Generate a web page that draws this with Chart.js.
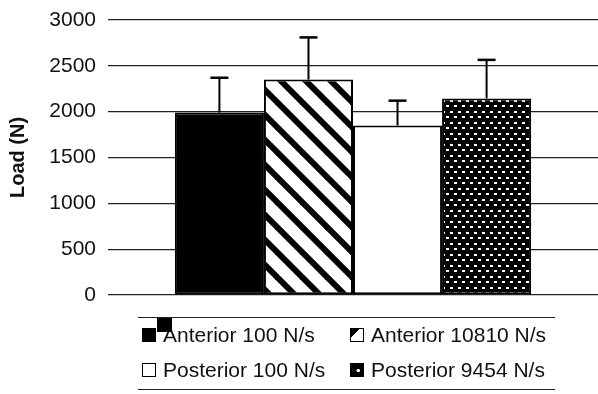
<!DOCTYPE html>
<html>
<head>
<meta charset="utf-8">
<script src="https://cdn.jsdelivr.net/npm/chart.js@4.4.1/dist/chart.umd.min.js"></script>
<style>
  html, body { margin: 0; padding: 0; background: #fff; }
  #wrap { position: relative; width: 598px; height: 394px; overflow: hidden; }
  #c { position: absolute; left: 0; top: 0; }
  #legend { position: absolute; left: 138px; top: 317px; width: 417px; height: 71px;
            border-top: 1.5px solid #222; border-bottom: 1.5px solid #222; }
  .item { position: absolute; font-family: "Liberation Sans", Arial, sans-serif; font-size: 21px;
          color: #111; white-space: nowrap; line-height: 22px; }
  .mk { position: absolute; width: 12px; height: 12px; border: 1.5px solid #000; box-sizing: content-box; }
  .glitch { position: absolute; left: 19px; top: 0px; width: 15px; height: 14px; background: #000; }
</style>
</head>
<body>
<div id="wrap">
  <canvas id="c" width="598" height="394"></canvas>
  <div id="legend"></div>
</div>
<script>
const categories = ['Load'];
const seriesLabels = ['Anterior 100 N/s', 'Anterior 10810 N/s', 'Posterior 100 N/s', 'Posterior 9454 N/s'];
const meanLoad = [1990, 2350, 1850, 2145];
const sdLoad = [380, 460, 270, 420];
const yTicks = [0, 500, 1000, 1500, 2000, 2500, 3000];

function hatchPattern() {
  const s = 25, c = document.createElement('canvas');
  c.width = s; c.height = s;
  const g = c.getContext('2d');
  g.fillStyle = '#fff'; g.fillRect(0, 0, s, s);
  g.strokeStyle = '#000'; g.lineWidth = 6;
  [-s, 0, s].forEach(dx => {
    g.beginPath(); g.moveTo(dx - s, -s); g.lineTo(dx + 2 * s, 2 * s); g.stroke();
  });
  return g.createPattern(c, 'repeat');
}
function dotPattern() {
  const w = 8, h = 11, c = document.createElement('canvas');
  c.width = w; c.height = h;
  const g = c.getContext('2d');
  g.fillStyle = '#000'; g.fillRect(0, 0, w, h);
  g.fillStyle = '#fff';
  g.fillRect(2, 1, 3, 2);
  g.fillRect(6, 6, 3, 2); g.fillRect(-2, 6, 3, 2);
  return g.createPattern(c, 'repeat');
}
const ctx0 = document.getElementById('c').getContext('2d');
const fills = ['#000', hatchPattern(), '#fff', dotPattern()];

const errorBars = {
  id: 'errorBars',
  afterDatasetsDraw(chart) {
    const g = chart.ctx, ys = chart.scales.y;
    g.save();
    g.strokeStyle = '#000';
    chart.data.datasets.forEach((ds, i) => {
      const el = chart.getDatasetMeta(i).data[0];
      const top = ys.getPixelForValue(meanLoad[i] + sdLoad[i]);
      g.lineWidth = 2;
      g.beginPath(); g.moveTo(el.x, el.y); g.lineTo(el.x, top); g.stroke();
      g.lineWidth = 2.5;
      g.beginPath(); g.moveTo(el.x - 9, top); g.lineTo(el.x + 9, top); g.stroke();
    });
    g.restore();
  }
};

new Chart(ctx0, {
  type: 'bar',
  data: {
    labels: categories,
    datasets: seriesLabels.map((lab, i) => ({
      label: lab,
      data: [meanLoad[i]],
      backgroundColor: fills[i],
      borderColor: '#000',
      borderWidth: 2,
      borderSkipped: false,
      categoryPercentage: 0.727,
      barPercentage: 1.0
    }))
  },
  options: {
    responsive: false,
    animation: false,
    layout: { padding: { top: 20, bottom: 99, right: 0, left: 0 } },
    plugins: { legend: { display: false }, tooltip: { enabled: false } },
    scales: {
      x: { display: false },
      y: {
        min: 0, max: 3000,
        afterFit(s) { s.width = 108; s.paddingTop = 0; s.paddingBottom = 0; },
        afterBuildTicks(s) { s.ticks = yTicks.map(v => ({ value: v })); },
        grid: { color: '#222', lineWidth: 1.3, drawTicks: false },
        border: { display: false },
        ticks: { padding: 12, color: '#111', callback: v => String(v),
                 font: { family: '"Liberation Sans", Arial, sans-serif', size: 21 } },
        title: { display: true, text: 'Load (N)', color: '#111', padding: { top: 6, bottom: 4 },
                 font: { family: '"Liberation Sans", Arial, sans-serif', size: 20, weight: 'bold' } }
      }
    }
  },
  plugins: [errorBars]
});

// HTML legend
const legendPos = [[4, 6], [212, 6], [4, 41], [212, 41]];
const markerStyles = [
  'background:#000;',
  'background:linear-gradient(135deg,#000 0,#000 35%,#fff 35%);',
  'background:#fff;',
  'background:radial-gradient(circle at 60% 55%, #fff 0, #fff 1.5px, #000 2px);'
];
const lg = document.getElementById('legend');
seriesLabels.forEach((lab, i) => {
  const it = document.createElement('div');
  it.className = 'item';
  it.style.left = legendPos[i][0] + 'px';
  it.style.top = legendPos[i][1] + 'px';
  it.style.paddingLeft = '21px';
  it.innerHTML = '<span class="mk" style="left:0;top:4px;' + markerStyles[i] + '"></span>' + lab;
  lg.appendChild(it);
});
const gl = document.createElement('div');
gl.className = 'glitch';
lg.appendChild(gl);
</script>
</body>
</html>
